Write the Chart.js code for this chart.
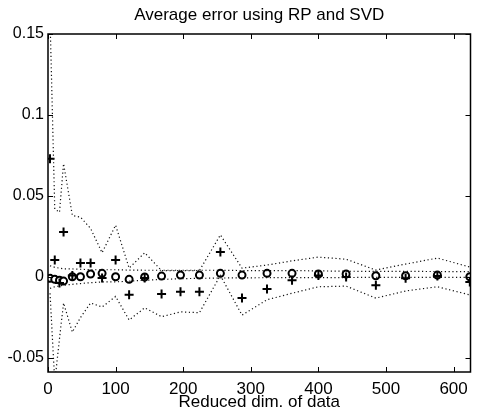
<!DOCTYPE html>
<html>
<head>
<meta charset="utf-8">
<script src="https://cdn.jsdelivr.net/npm/chart.js@4/dist/chart.umd.min.js"></script>
<style>
  html, body { margin: 0; padding: 0; background: #fff; }
  #wrap { width: 477px; height: 410px; }
</style>
</head>
<body>
<div id="wrap"><canvas id="grafico" width="477" height="410"></canvas></div>
<script>
// reduced dimensions (x values)
var dims = [3, 10, 17, 23, 36, 48, 63, 80, 100, 120, 143, 168, 196, 224, 255, 287, 324, 361, 400, 441, 485, 529, 576, 624];

// RP: mean error and the dotted bounds
var rpMedia = [0.073, 0.0105, -0.0037, 0.0278, 0.001, 0.0086, 0.0086, -0.0006, 0.0105, -0.011, -0.0006, -0.0105, -0.009, -0.009, 0.0154, -0.013, -0.0074, -0.002, 0.001, 0.0, -0.005, -0.0008, 0.0006, -0.003];
var rpSup = [0.16, 0.042, 0.04, 0.07, 0.038, 0.037, 0.03, 0.015, 0.032, 0.0055, 0.015, 0.004, 0.004, 0.004, 0.026, 0.0055, 0.0074, 0.01, 0.0123, 0.011, 0.0043, 0.008, 0.0117, 0.0062];
var rpInf = [-0.01, -0.065, -0.038, -0.016, -0.034, -0.025, -0.016, -0.0185, -0.012, -0.0265, -0.019, -0.0245, -0.0215, -0.022, 0.001, -0.0235, -0.014, -0.01, -0.006, -0.0056, -0.013, -0.0086, -0.006, -0.011];

// SVD: mean error and bounds
var svdMedia = [-0.0008, -0.0014, -0.0019, -0.0025, 0.0002, 0.0002, 0.0019, 0.0023, 0.0002, -0.0014, 0, 0.0006, 0.0012, 0.0012, 0.0023, 0.0012, 0.0023, 0.0023, 0.0019, 0.0019, 0.0008, 0.0008, 0.0012, 0.0002];
var svdSup = [0.007, 0.006, 0.0055, 0.005, 0.005, 0.0048, 0.0045, 0.0045, 0.0045, 0.0043, 0.0042, 0.0042, 0.0042, 0.0042, 0.0042, 0.004, 0.004, 0.004, 0.0038, 0.0036, 0.0035, 0.0035, 0.0034, 0.0033];
var svdInf = [-0.007, -0.006, -0.0055, -0.005, -0.0045, -0.004, -0.0035, -0.003, -0.003, -0.0025, -0.002, -0.0015, -0.001, -0.0008, -0.0006, -0.0005, -0.0004, -0.0004, -0.0003, -0.0003, -0.0002, -0.0002, -0.0002, -0.0002];

// tick labels
var xTicks = [0, 100, 200, 300, 400, 500, 600];
var yTicks = [-0.05, 0, 0.05, 0.1, 0.15];
var titulo = 'Average error using RP and SVD';

function puntos(ys) {
  return dims.map(function(d, i) { return { x: d, y: ys[i] }; });
}

function linea(ys) {
  return {
    data: puntos(ys),
    showLine: true,
    borderColor: '#111',
    borderWidth: 1.2,
    borderDash: [1.2, 2.6],
    pointRadius: 0,
    fill: false
  };
}

var fuente = "'Liberation Sans', Arial, Helvetica, sans-serif";

// box round the plot, inward ticks on every side, title centred over the plot
var marco = {
  id: 'marco',
  afterDraw: function(chart) {
    var ctx = chart.ctx, a = chart.chartArea;
    var sx = chart.scales.x, sy = chart.scales.y;
    ctx.save();
    ctx.strokeStyle = '#000';
    ctx.lineWidth = 1.5;
    ctx.strokeRect(a.left, a.top, a.right - a.left, a.bottom - a.top);
    ctx.lineWidth = 1;
    ctx.beginPath();
    xTicks.forEach(function(v) {
      var px = Math.round(sx.getPixelForValue(v)) + 0.5;
      ctx.moveTo(px, a.bottom); ctx.lineTo(px, a.bottom - 5);
      ctx.moveTo(px, a.top); ctx.lineTo(px, a.top + 5);
    });
    yTicks.forEach(function(v) {
      var py = Math.round(sy.getPixelForValue(v)) + 0.5;
      ctx.moveTo(a.left, py); ctx.lineTo(a.left + 5, py);
      ctx.moveTo(a.right, py); ctx.lineTo(a.right - 5, py);
    });
    ctx.stroke();
    ctx.fillStyle = '#000';
    ctx.font = '17px ' + fuente;
    ctx.textAlign = 'center';
    ctx.textBaseline = 'middle';
    ctx.fillText(titulo, (a.left + a.right) / 2, 15);
    ctx.restore();
  }
};

var ctx = document.getElementById('grafico').getContext('2d');
new Chart(ctx, {
  type: 'line',
  data: {
    datasets: [
      linea(rpSup),
      linea(rpInf),
      linea(svdSup),
      linea(svdInf),
      {
        data: puntos(rpMedia),
        showLine: false,
        pointStyle: 'cross',
        pointRadius: 4.5,
        pointBorderWidth: 2,
        pointBorderColor: '#000',
        pointBackgroundColor: '#000'
      },
      {
        data: puntos(svdMedia),
        showLine: false,
        pointStyle: 'circle',
        pointRadius: 3.5,
        pointBorderWidth: 2,
        pointBorderColor: '#000',
        pointBackgroundColor: '#fff'
      }
    ]
  },
  options: {
    responsive: false,
    animation: false,
    layout: { padding: { left: 0, right: 2, top: 34, bottom: 0 } },
    plugins: {
      legend: { display: false },
      tooltip: { enabled: false },
      title: { display: false }
    },
    scales: {
      x: {
        type: 'linear',
        min: 0,
        max: 625,
        grid: { display: false, drawTicks: false },
        border: { display: false },
        afterBuildTicks: function(s) { s.ticks = xTicks.map(function(v) { return { value: v }; }); },
        afterFit: function(s) { s.height = 38; },
        ticks: {
          color: '#000',
          padding: 7,
          maxRotation: 0,
          font: { family: fuente, size: 17 },
          callback: function(v) { return String(v); }
        },
        title: {
          display: true,
          text: 'Reduced dim. of data',
          color: '#000',
          padding: 0,
          font: { family: fuente, size: 17, lineHeight: 0.9 }
        }
      },
      y: {
        min: -0.0586,
        max: 0.15,
        grid: { display: false, drawTicks: false },
        border: { display: false },
        afterBuildTicks: function(s) { s.ticks = yTicks.map(function(v) { return { value: v }; }); },
        afterFit: function(s) { s.width = 48; },
        ticks: {
          color: '#000',
          padding: 4,
          font: { family: fuente, size: 16 },
          callback: function(v) { return String(v); }
        }
      }
    }
  },
  plugins: [marco]
});
</script>
</body>
</html>
